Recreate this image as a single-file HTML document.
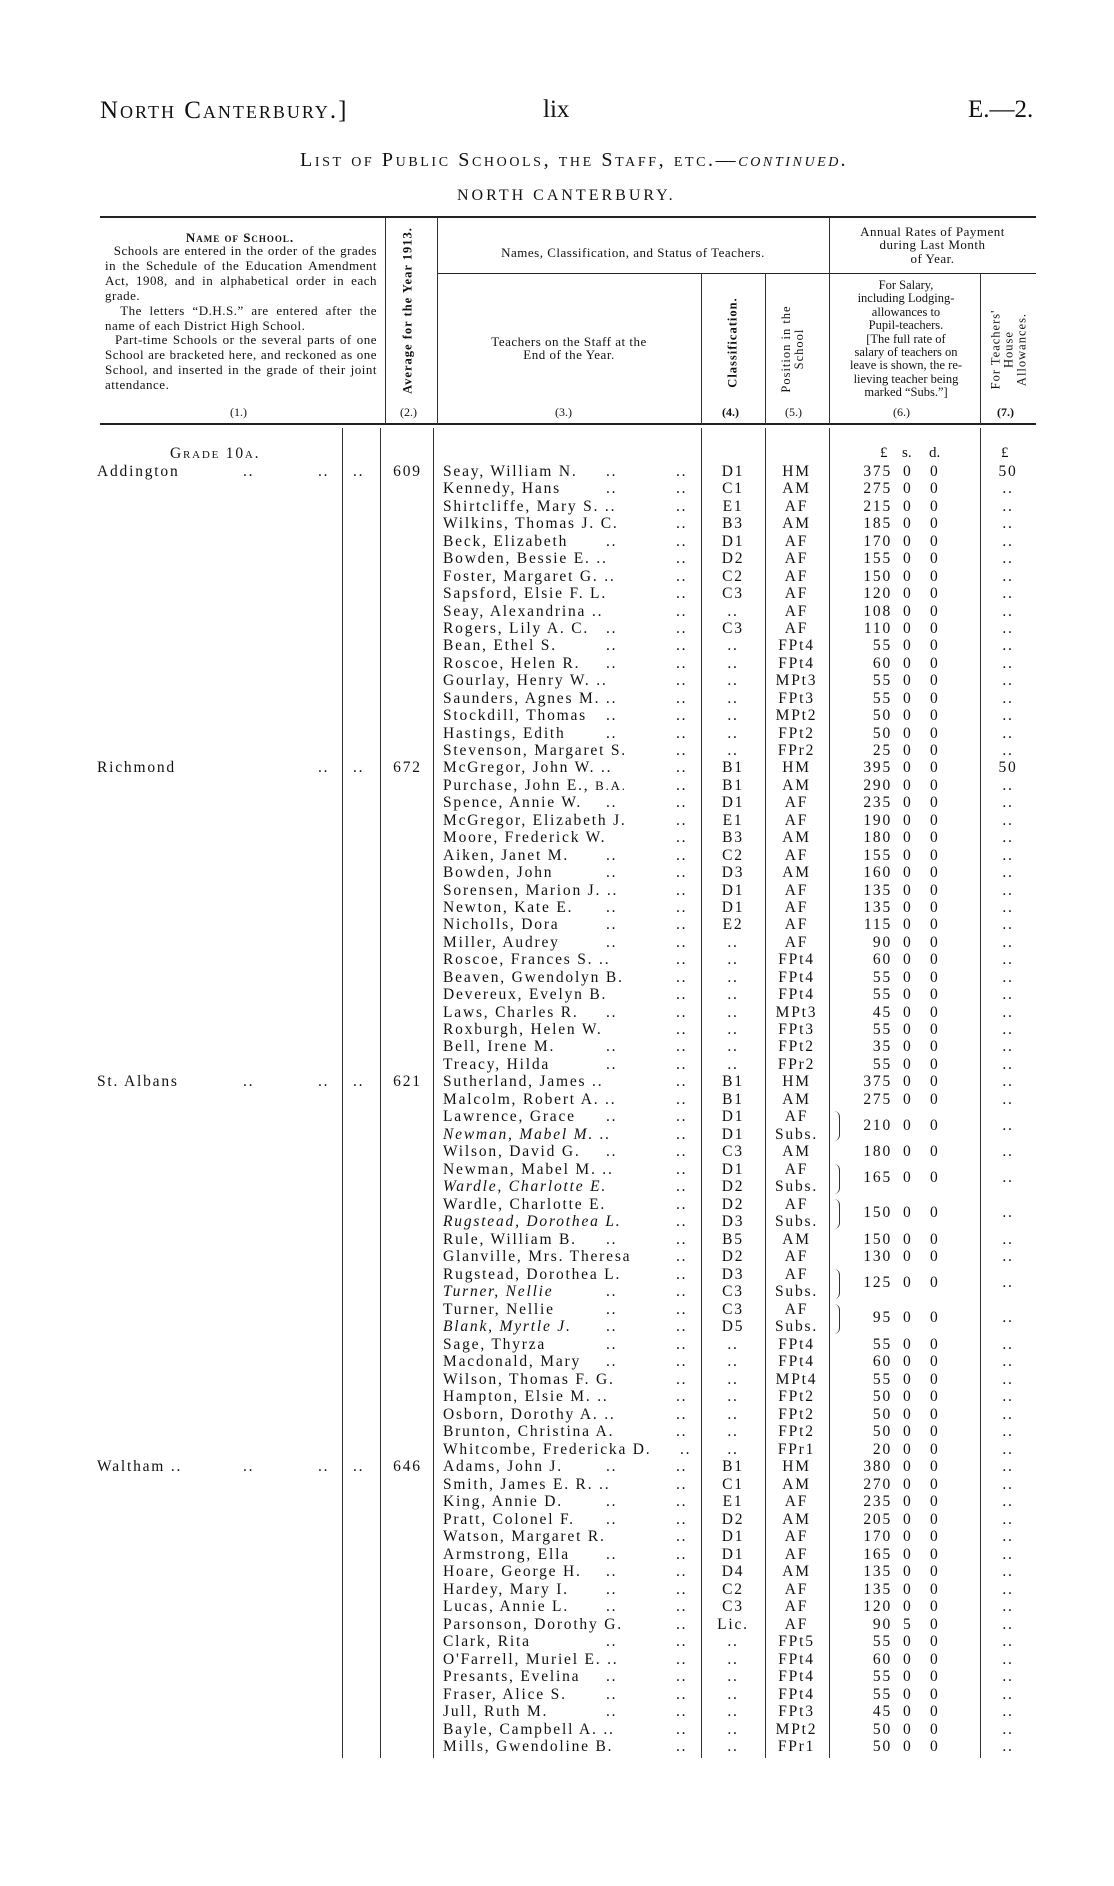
<!DOCTYPE html>
<html><head><meta charset="utf-8">
<style>
*{margin:0;padding:0;box-sizing:border-box}
body{width:1114px;height:1886px;background:#fff;position:relative;overflow:hidden;font-family:"Liberation Serif",serif;color:#111}
.a{position:absolute;white-space:nowrap}
.hl{position:absolute;background:#222}
.vl{position:absolute;width:1px;background:#333}
.sc{font-variant:small-caps}
.hd{font-size:12px;line-height:13.4px}
.rot{position:absolute;transform:rotate(-90deg);transform-origin:center;white-space:nowrap;text-align:center;font-size:12.5px;line-height:13px;letter-spacing:1px}
#rows{position:absolute;left:0;top:463px;width:1114px;font-size:15.5px;letter-spacing:1.8px}
.r{position:relative;height:17.45px;line-height:17px}
.r2{height:17.5px;line-height:17px}
.r span{position:absolute;white-space:nowrap}
.n{left:443px}
.i{font-style:italic}
.d1{left:606px}
.d2{left:676px}
.c{left:702px;width:62px;text-align:center}
.p{left:765px;width:63px;text-align:center}
.l{right:222px;text-align:right}
.s{left:903px}
.d{left:930px}
.h{left:980px;width:56px;text-align:center}
.sn{left:97px}
.sd{left:243px}.se{left:318px}.sf{left:353px}
.av{left:380px;width:55px;text-align:center}
.dn{top:8.5px}
.br{position:absolute;left:832px;width:8px;height:30px;border-right:1px solid #333;border-radius:0 6px 6px 0;top:3px}
</style></head><body>
<div class="a sc" style="left:100px;top:97px;font-size:25px;letter-spacing:2px">North Canterbury.]</div>
<div class="a" style="left:543px;top:96px;font-size:25px">lix</div>
<div class="a" style="left:968px;top:96px;font-size:25px">E.—2.</div>
<div class="a sc" style="left:300px;top:149px;font-size:20px;letter-spacing:2.6px">List of Public Schools, the Staff, etc.—<i>continued.</i></div>
<div class="a" style="left:457px;top:187px;font-size:16px;letter-spacing:3px">NORTH CANTERBURY.</div>

<div class="hl" style="left:100px;top:216px;width:936px;height:2px"></div>
<div class="hl" style="left:437px;top:273px;width:599px;height:1px"></div>
<div class="hl" style="left:100px;top:423px;width:936px;height:2px"></div>
<div class="vl" style="left:385px;top:217px;height:207px"></div>
<div class="vl" style="left:437px;top:217px;height:207px"></div>
<div class="vl" style="left:829px;top:217px;height:207px"></div>
<div class="vl" style="left:701px;top:273px;height:151px"></div>
<div class="vl" style="left:765px;top:273px;height:151px"></div>
<div class="vl" style="left:980px;top:273px;height:151px"></div>

<div class="a sc hd" style="left:105px;width:270px;text-align:center;top:231px;font-weight:bold;font-size:13px;letter-spacing:1px">Name of School.</div>
<div class="a hd" style="left:105px;top:244px;width:272px;white-space:normal;text-align:justify;font-size:13px;line-height:14.9px;letter-spacing:0.5px">&nbsp;&nbsp;Schools are entered in the order of the grades in the Schedule of the Education Amendment Act, 1908, and in alphabetical order in each grade.<br>&nbsp;&nbsp;The letters “D.H.S.” are entered after the name of each District High School.<br>&nbsp;&nbsp;Part-time Schools or the several parts of one School are bracketed here, and reckoned as one School, and inserted in the grade of their joint attendance.</div>
<div class="a hd" style="left:230px;top:406px">(1.)</div>
<div class="rot" style="left:318px;top:304px;width:180px;font-weight:bold">Average for the Year 1913.</div>
<div class="a hd" style="left:400px;top:406px">(2.)</div>
<div class="a hd" style="left:437px;width:392px;text-align:center;top:246px;font-size:13px;letter-spacing:0.5px">Names, Classification, and Status of Teachers.</div>
<div class="a hd" style="left:829px;width:207px;text-align:center;top:225px;font-size:13px;letter-spacing:0.5px">Annual Rates of Payment<br>during Last Month<br>of Year.</div>
<div class="a hd" style="left:437px;width:264px;text-align:center;top:335px;font-size:13px;letter-spacing:0.5px">Teachers on the Staff at the<br>End of the Year.</div>
<div class="a hd" style="left:555px;top:406px">(3.)</div>
<div class="rot" style="left:683px;top:336px;width:100px;font-weight:bold">Classification.</div>
<div class="a hd" style="left:722px;top:406px;font-weight:bold">(4.)</div>
<div class="rot" style="left:738px;top:336px;width:110px">Position in the<br>School</div>
<div class="a hd" style="left:785px;top:406px">(5.)</div>
<div class="a hd" style="left:831px;width:150px;text-align:center;top:279px;font-size:12.5px">For Salary,<br>including Lodging-<br>allowances to<br>Pupil-teachers.<br>[The full rate of<br>salary of teachers on<br>leave is shown, the re-<br>lieving teacher being<br>marked “Subs.”]</div>
<div class="a hd" style="left:893px;top:406px">(6.)</div>
<div class="rot" style="left:949px;top:330px;width:120px">For Teachers'<br>House<br>Allowances.</div>
<div class="a hd" style="left:997px;top:406px;font-weight:bold">(7.)</div>

<div class="vl" style="left:342px;top:428px;height:1330px"></div>
<div class="vl" style="left:380px;top:428px;height:1330px"></div>
<div class="vl" style="left:433px;top:428px;height:1330px"></div>
<div class="vl" style="left:701px;top:428px;height:1330px"></div>
<div class="vl" style="left:765px;top:428px;height:1330px"></div>
<div class="vl" style="left:829px;top:428px;height:1330px"></div>
<div class="vl" style="left:980px;top:428px;height:1330px"></div>

<div class="a sc" style="left:170px;top:445px;font-size:15.5px;letter-spacing:1.8px">Grade 10a.</div>
<div class="a" style="left:880px;top:445px;font-size:15px">£</div>
<div class="a" style="left:902px;top:445px;font-size:15px">s.</div>
<div class="a" style="left:929px;top:445px;font-size:15px">d.</div>
<div class="a" style="left:1001px;top:445px;font-size:15px">£</div>

<div id="rows">
<div class="r"><span class="sn">Addington</span><span class="sd">..</span><span class="se">..</span><span class="sf">..</span><span class="av">609</span><span class="n">Seay, William N.</span><span class="d1">..</span><span class="d2">..</span><span class="c">D1</span><span class="p">HM</span><span class="l">375</span><span class="s">0</span><span class="d">0</span><span class="h">50</span></div>
<div class="r"><span class="n">Kennedy, Hans</span><span class="d1">..</span><span class="d2">..</span><span class="c">C1</span><span class="p">AM</span><span class="l">275</span><span class="s">0</span><span class="d">0</span><span class="h">..</span></div>
<div class="r"><span class="n">Shirtcliffe, Mary S. ..</span><span class="d2">..</span><span class="c">E1</span><span class="p">AF</span><span class="l">215</span><span class="s">0</span><span class="d">0</span><span class="h">..</span></div>
<div class="r"><span class="n">Wilkins, Thomas J. C.</span><span class="d2">..</span><span class="c">B3</span><span class="p">AM</span><span class="l">185</span><span class="s">0</span><span class="d">0</span><span class="h">..</span></div>
<div class="r"><span class="n">Beck, Elizabeth</span><span class="d1">..</span><span class="d2">..</span><span class="c">D1</span><span class="p">AF</span><span class="l">170</span><span class="s">0</span><span class="d">0</span><span class="h">..</span></div>
<div class="r"><span class="n">Bowden, Bessie E. ..</span><span class="d2">..</span><span class="c">D2</span><span class="p">AF</span><span class="l">155</span><span class="s">0</span><span class="d">0</span><span class="h">..</span></div>
<div class="r"><span class="n">Foster, Margaret G. ..</span><span class="d2">..</span><span class="c">C2</span><span class="p">AF</span><span class="l">150</span><span class="s">0</span><span class="d">0</span><span class="h">..</span></div>
<div class="r"><span class="n">Sapsford, Elsie F. L.</span><span class="d2">..</span><span class="c">C3</span><span class="p">AF</span><span class="l">120</span><span class="s">0</span><span class="d">0</span><span class="h">..</span></div>
<div class="r"><span class="n">Seay, Alexandrina ..</span><span class="d2">..</span><span class="c">..</span><span class="p">AF</span><span class="l">108</span><span class="s">0</span><span class="d">0</span><span class="h">..</span></div>
<div class="r"><span class="n">Rogers, Lily A. C.</span><span class="d1">..</span><span class="d2">..</span><span class="c">C3</span><span class="p">AF</span><span class="l">110</span><span class="s">0</span><span class="d">0</span><span class="h">..</span></div>
<div class="r"><span class="n">Bean, Ethel S.</span><span class="d1">..</span><span class="d2">..</span><span class="c">..</span><span class="p">FPt4</span><span class="l">55</span><span class="s">0</span><span class="d">0</span><span class="h">..</span></div>
<div class="r"><span class="n">Roscoe, Helen R.</span><span class="d1">..</span><span class="d2">..</span><span class="c">..</span><span class="p">FPt4</span><span class="l">60</span><span class="s">0</span><span class="d">0</span><span class="h">..</span></div>
<div class="r"><span class="n">Gourlay, Henry W. ..</span><span class="d2">..</span><span class="c">..</span><span class="p">MPt3</span><span class="l">55</span><span class="s">0</span><span class="d">0</span><span class="h">..</span></div>
<div class="r"><span class="n">Saunders, Agnes M. ..</span><span class="d2">..</span><span class="c">..</span><span class="p">FPt3</span><span class="l">55</span><span class="s">0</span><span class="d">0</span><span class="h">..</span></div>
<div class="r"><span class="n">Stockdill, Thomas</span><span class="d1">..</span><span class="d2">..</span><span class="c">..</span><span class="p">MPt2</span><span class="l">50</span><span class="s">0</span><span class="d">0</span><span class="h">..</span></div>
<div class="r"><span class="n">Hastings, Edith</span><span class="d1">..</span><span class="d2">..</span><span class="c">..</span><span class="p">FPt2</span><span class="l">50</span><span class="s">0</span><span class="d">0</span><span class="h">..</span></div>
<div class="r"><span class="n">Stevenson, Margaret S.</span><span class="d2">..</span><span class="c">..</span><span class="p">FPr2</span><span class="l">25</span><span class="s">0</span><span class="d">0</span><span class="h">..</span></div>
<div class="r"><span class="sn">Richmond</span><span class="se">..</span><span class="sf">..</span><span class="av">672</span><span class="n">McGregor, John W. ..</span><span class="d2">..</span><span class="c">B1</span><span class="p">HM</span><span class="l">395</span><span class="s">0</span><span class="d">0</span><span class="h">50</span></div>
<div class="r"><span class="n">Purchase, John E., <small>B.A.</small></span><span class="d2">..</span><span class="c">B1</span><span class="p">AM</span><span class="l">290</span><span class="s">0</span><span class="d">0</span><span class="h">..</span></div>
<div class="r"><span class="n">Spence, Annie W.</span><span class="d1">..</span><span class="d2">..</span><span class="c">D1</span><span class="p">AF</span><span class="l">235</span><span class="s">0</span><span class="d">0</span><span class="h">..</span></div>
<div class="r"><span class="n">McGregor, Elizabeth J.</span><span class="d2">..</span><span class="c">E1</span><span class="p">AF</span><span class="l">190</span><span class="s">0</span><span class="d">0</span><span class="h">..</span></div>
<div class="r"><span class="n">Moore, Frederick W.</span><span class="d2">..</span><span class="c">B3</span><span class="p">AM</span><span class="l">180</span><span class="s">0</span><span class="d">0</span><span class="h">..</span></div>
<div class="r"><span class="n">Aiken, Janet M.</span><span class="d1">..</span><span class="d2">..</span><span class="c">C2</span><span class="p">AF</span><span class="l">155</span><span class="s">0</span><span class="d">0</span><span class="h">..</span></div>
<div class="r"><span class="n">Bowden, John</span><span class="d1">..</span><span class="d2">..</span><span class="c">D3</span><span class="p">AM</span><span class="l">160</span><span class="s">0</span><span class="d">0</span><span class="h">..</span></div>
<div class="r"><span class="n">Sorensen, Marion J. ..</span><span class="d2">..</span><span class="c">D1</span><span class="p">AF</span><span class="l">135</span><span class="s">0</span><span class="d">0</span><span class="h">..</span></div>
<div class="r"><span class="n">Newton, Kate E.</span><span class="d1">..</span><span class="d2">..</span><span class="c">D1</span><span class="p">AF</span><span class="l">135</span><span class="s">0</span><span class="d">0</span><span class="h">..</span></div>
<div class="r"><span class="n">Nicholls, Dora</span><span class="d1">..</span><span class="d2">..</span><span class="c">E2</span><span class="p">AF</span><span class="l">115</span><span class="s">0</span><span class="d">0</span><span class="h">..</span></div>
<div class="r"><span class="n">Miller, Audrey</span><span class="d1">..</span><span class="d2">..</span><span class="c">..</span><span class="p">AF</span><span class="l">90</span><span class="s">0</span><span class="d">0</span><span class="h">..</span></div>
<div class="r"><span class="n">Roscoe, Frances S. ..</span><span class="d2">..</span><span class="c">..</span><span class="p">FPt4</span><span class="l">60</span><span class="s">0</span><span class="d">0</span><span class="h">..</span></div>
<div class="r"><span class="n">Beaven, Gwendolyn B.</span><span class="d2">..</span><span class="c">..</span><span class="p">FPt4</span><span class="l">55</span><span class="s">0</span><span class="d">0</span><span class="h">..</span></div>
<div class="r"><span class="n">Devereux, Evelyn B.</span><span class="d2">..</span><span class="c">..</span><span class="p">FPt4</span><span class="l">55</span><span class="s">0</span><span class="d">0</span><span class="h">..</span></div>
<div class="r"><span class="n">Laws, Charles R.</span><span class="d1">..</span><span class="d2">..</span><span class="c">..</span><span class="p">MPt3</span><span class="l">45</span><span class="s">0</span><span class="d">0</span><span class="h">..</span></div>
<div class="r"><span class="n">Roxburgh, Helen W.</span><span class="d2">..</span><span class="c">..</span><span class="p">FPt3</span><span class="l">55</span><span class="s">0</span><span class="d">0</span><span class="h">..</span></div>
<div class="r"><span class="n">Bell, Irene M.</span><span class="d1">..</span><span class="d2">..</span><span class="c">..</span><span class="p">FPt2</span><span class="l">35</span><span class="s">0</span><span class="d">0</span><span class="h">..</span></div>
<div class="r"><span class="n">Treacy, Hilda</span><span class="d1">..</span><span class="d2">..</span><span class="c">..</span><span class="p">FPr2</span><span class="l">55</span><span class="s">0</span><span class="d">0</span><span class="h">..</span></div>
<div class="r r2"><span class="sn">St. Albans</span><span class="sd">..</span><span class="se">..</span><span class="sf">..</span><span class="av">621</span><span class="n">Sutherland, James ..</span><span class="d2">..</span><span class="c">B1</span><span class="p">HM</span><span class="l">375</span><span class="s">0</span><span class="d">0</span><span class="h">..</span></div>
<div class="r r2"><span class="n">Malcolm, Robert A. ..</span><span class="d2">..</span><span class="c">B1</span><span class="p">AM</span><span class="l">275</span><span class="s">0</span><span class="d">0</span><span class="h">..</span></div>
<div class="r r2"><span class="n">Lawrence, Grace</span><span class="d1">..</span><span class="d2">..</span><span class="c">D1</span><span class="p">AF</span><span class="br"></span><span class="l dn">210</span><span class="s dn">0</span><span class="d dn">0</span><span class="h dn">..</span></div>
<div class="r r2"><span class="n i">Newman, Mabel M. ..</span><span class="d2">..</span><span class="c">D1</span><span class="p">Subs.</span></div>
<div class="r r2"><span class="n">Wilson, David G.</span><span class="d1">..</span><span class="d2">..</span><span class="c">C3</span><span class="p">AM</span><span class="l">180</span><span class="s">0</span><span class="d">0</span><span class="h">..</span></div>
<div class="r r2"><span class="n">Newman, Mabel M. ..</span><span class="d2">..</span><span class="c">D1</span><span class="p">AF</span><span class="br"></span><span class="l dn">165</span><span class="s dn">0</span><span class="d dn">0</span><span class="h dn">..</span></div>
<div class="r r2"><span class="n i">Wardle, Charlotte E.</span><span class="d2">..</span><span class="c">D2</span><span class="p">Subs.</span></div>
<div class="r r2"><span class="n">Wardle, Charlotte E.</span><span class="d2">..</span><span class="c">D2</span><span class="p">AF</span><span class="br"></span><span class="l dn">150</span><span class="s dn">0</span><span class="d dn">0</span><span class="h dn">..</span></div>
<div class="r r2"><span class="n i">Rugstead, Dorothea L.</span><span class="d2">..</span><span class="c">D3</span><span class="p">Subs.</span></div>
<div class="r r2"><span class="n">Rule, William B.</span><span class="d1">..</span><span class="d2">..</span><span class="c">B5</span><span class="p">AM</span><span class="l">150</span><span class="s">0</span><span class="d">0</span><span class="h">..</span></div>
<div class="r r2"><span class="n">Glanville, Mrs. Theresa</span><span class="d2">..</span><span class="c">D2</span><span class="p">AF</span><span class="l">130</span><span class="s">0</span><span class="d">0</span><span class="h">..</span></div>
<div class="r r2"><span class="n">Rugstead, Dorothea L.</span><span class="d2">..</span><span class="c">D3</span><span class="p">AF</span><span class="br"></span><span class="l dn">125</span><span class="s dn">0</span><span class="d dn">0</span><span class="h dn">..</span></div>
<div class="r r2"><span class="n i">Turner, Nellie</span><span class="d1">..</span><span class="d2">..</span><span class="c">C3</span><span class="p">Subs.</span></div>
<div class="r r2"><span class="n">Turner, Nellie</span><span class="d1">..</span><span class="d2">..</span><span class="c">C3</span><span class="p">AF</span><span class="br"></span><span class="l dn">95</span><span class="s dn">0</span><span class="d dn">0</span><span class="h dn">..</span></div>
<div class="r r2"><span class="n i">Blank, Myrtle J.</span><span class="d1">..</span><span class="d2">..</span><span class="c">D5</span><span class="p">Subs.</span></div>
<div class="r r2"><span class="n">Sage, Thyrza</span><span class="d1">..</span><span class="d2">..</span><span class="c">..</span><span class="p">FPt4</span><span class="l">55</span><span class="s">0</span><span class="d">0</span><span class="h">..</span></div>
<div class="r r2"><span class="n">Macdonald, Mary</span><span class="d1">..</span><span class="d2">..</span><span class="c">..</span><span class="p">FPt4</span><span class="l">60</span><span class="s">0</span><span class="d">0</span><span class="h">..</span></div>
<div class="r r2"><span class="n">Wilson, Thomas F. G.</span><span class="d2">..</span><span class="c">..</span><span class="p">MPt4</span><span class="l">55</span><span class="s">0</span><span class="d">0</span><span class="h">..</span></div>
<div class="r r2"><span class="n">Hampton, Elsie M. ..</span><span class="d2">..</span><span class="c">..</span><span class="p">FPt2</span><span class="l">50</span><span class="s">0</span><span class="d">0</span><span class="h">..</span></div>
<div class="r r2"><span class="n">Osborn, Dorothy A. ..</span><span class="d2">..</span><span class="c">..</span><span class="p">FPt2</span><span class="l">50</span><span class="s">0</span><span class="d">0</span><span class="h">..</span></div>
<div class="r r2"><span class="n">Brunton, Christina A.</span><span class="d2">..</span><span class="c">..</span><span class="p">FPt2</span><span class="l">50</span><span class="s">0</span><span class="d">0</span><span class="h">..</span></div>
<div class="r r2"><span class="n">Whitcombe, Fredericka D.</span><span class="d2" style="left:680px">..</span><span class="c">..</span><span class="p">FPr1</span><span class="l">20</span><span class="s">0</span><span class="d">0</span><span class="h">..</span></div>
<div class="r r2"><span class="sn">Waltham ..</span><span class="sd">..</span><span class="se">..</span><span class="sf">..</span><span class="av">646</span><span class="n">Adams, John J.</span><span class="d1">..</span><span class="d2">..</span><span class="c">B1</span><span class="p">HM</span><span class="l">380</span><span class="s">0</span><span class="d">0</span><span class="h">..</span></div>
<div class="r r2"><span class="n">Smith, James E. R. ..</span><span class="d2">..</span><span class="c">C1</span><span class="p">AM</span><span class="l">270</span><span class="s">0</span><span class="d">0</span><span class="h">..</span></div>
<div class="r r2"><span class="n">King, Annie D.</span><span class="d1">..</span><span class="d2">..</span><span class="c">E1</span><span class="p">AF</span><span class="l">235</span><span class="s">0</span><span class="d">0</span><span class="h">..</span></div>
<div class="r r2"><span class="n">Pratt, Colonel F.</span><span class="d1">..</span><span class="d2">..</span><span class="c">D2</span><span class="p">AM</span><span class="l">205</span><span class="s">0</span><span class="d">0</span><span class="h">..</span></div>
<div class="r r2"><span class="n">Watson, Margaret R.</span><span class="d2">..</span><span class="c">D1</span><span class="p">AF</span><span class="l">170</span><span class="s">0</span><span class="d">0</span><span class="h">..</span></div>
<div class="r r2"><span class="n">Armstrong, Ella</span><span class="d1">..</span><span class="d2">..</span><span class="c">D1</span><span class="p">AF</span><span class="l">165</span><span class="s">0</span><span class="d">0</span><span class="h">..</span></div>
<div class="r r2"><span class="n">Hoare, George H.</span><span class="d1">..</span><span class="d2">..</span><span class="c">D4</span><span class="p">AM</span><span class="l">135</span><span class="s">0</span><span class="d">0</span><span class="h">..</span></div>
<div class="r r2"><span class="n">Hardey, Mary I.</span><span class="d1">..</span><span class="d2">..</span><span class="c">C2</span><span class="p">AF</span><span class="l">135</span><span class="s">0</span><span class="d">0</span><span class="h">..</span></div>
<div class="r r2"><span class="n">Lucas, Annie L.</span><span class="d1">..</span><span class="d2">..</span><span class="c">C3</span><span class="p">AF</span><span class="l">120</span><span class="s">0</span><span class="d">0</span><span class="h">..</span></div>
<div class="r r2"><span class="n">Parsonson, Dorothy G.</span><span class="d2">..</span><span class="c">Lic.</span><span class="p">AF</span><span class="l">90</span><span class="s">5</span><span class="d">0</span><span class="h">..</span></div>
<div class="r r2"><span class="n">Clark, Rita</span><span class="d1">..</span><span class="d2">..</span><span class="c">..</span><span class="p">FPt5</span><span class="l">55</span><span class="s">0</span><span class="d">0</span><span class="h">..</span></div>
<div class="r r2"><span class="n">O'Farrell, Muriel E. ..</span><span class="d2">..</span><span class="c">..</span><span class="p">FPt4</span><span class="l">60</span><span class="s">0</span><span class="d">0</span><span class="h">..</span></div>
<div class="r r2"><span class="n">Presants, Evelina</span><span class="d1">..</span><span class="d2">..</span><span class="c">..</span><span class="p">FPt4</span><span class="l">55</span><span class="s">0</span><span class="d">0</span><span class="h">..</span></div>
<div class="r r2"><span class="n">Fraser, Alice S.</span><span class="d1">..</span><span class="d2">..</span><span class="c">..</span><span class="p">FPt4</span><span class="l">55</span><span class="s">0</span><span class="d">0</span><span class="h">..</span></div>
<div class="r r2"><span class="n">Jull, Ruth M.</span><span class="d1">..</span><span class="d2">..</span><span class="c">..</span><span class="p">FPt3</span><span class="l">45</span><span class="s">0</span><span class="d">0</span><span class="h">..</span></div>
<div class="r r2"><span class="n">Bayle, Campbell A. ..</span><span class="d2">..</span><span class="c">..</span><span class="p">MPt2</span><span class="l">50</span><span class="s">0</span><span class="d">0</span><span class="h">..</span></div>
<div class="r r2"><span class="n">Mills, Gwendoline B.</span><span class="d2">..</span><span class="c">..</span><span class="p">FPr1</span><span class="l">50</span><span class="s">0</span><span class="d">0</span><span class="h">..</span></div>
</div>
</body></html>
